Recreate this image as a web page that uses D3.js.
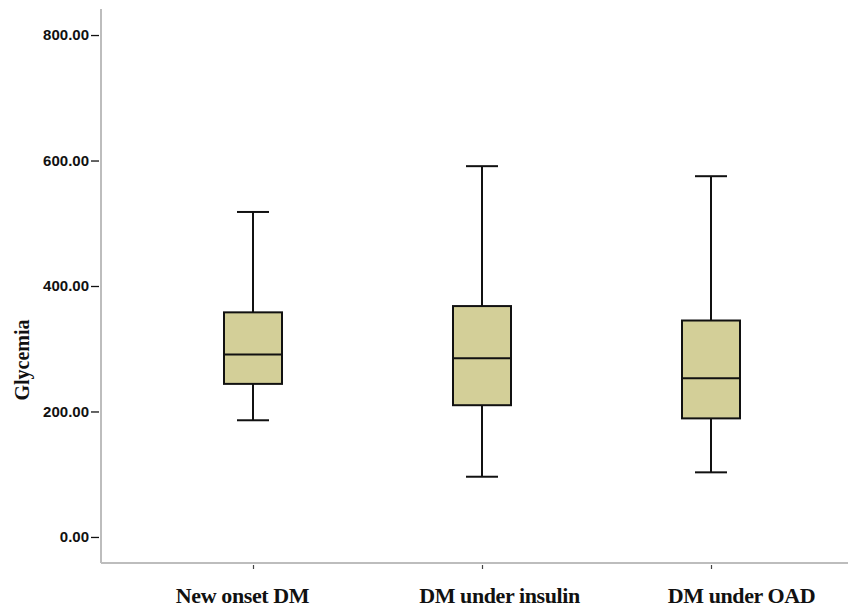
<!DOCTYPE html>
<html>
<head>
<meta charset="utf-8">
<script src="https://cdn.jsdelivr.net/npm/d3@7"></script>
<style>
  body { margin: 0; background: #fff; }
  svg { display: block; }
</style>
</head>
<body>
<div id="chart"></div>
<script>
const boxFill = "#d3cf98";

const categories = ["New onset DM", "DM under insulin", "DM under OAD"];
const whiskerLow = [186, 96, 103];
const q1 = [244, 210, 189];
const medians = [291, 285, 253];
const q3 = [358, 368, 345];
const whiskerHigh = [518, 591, 575];
const yTicks = [0, 200, 400, 600, 800];

const data = categories.map((c, i) => ({
  name: c, lo: whiskerLow[i], q1: q1[i], med: medians[i], q3: q3[i], hi: whiskerHigh[i]
}));

const svgWidth = 848;
const svgHeight = 607;
const axisX = 101;
const axisY = 563;

// labels in the original sit a little off their ticks
const labelShift = [-11, 17, 30];

const svg = d3.select("#chart")
  .append("svg")
  .attr("width", svgWidth)
  .attr("height", svgHeight);

// scales
const yScale = d3.scaleLinear()
  .domain([-41.5, 841.5])
  .range([axisY, 9]);

const xScale = d3.scalePoint()
  .domain(categories)
  .range([253, 711]);

const boxWidth = 58;
const capWidth = 32;

// y axis
const yAxis = d3.axisLeft(yScale)
  .tickValues(yTicks)
  .tickSize(8)
  .tickPadding(2)
  .tickFormat(d3.format(".2f"));

const yAxisGroup = svg.append("g")
  .attr("transform", `translate(${axisX - 2},0)`)
  .call(yAxis);

yAxisGroup.select(".domain").remove();
yAxisGroup.selectAll(".tick line")
  .attr("stroke", "#111")
  .attr("stroke-width", 1.3);
yAxisGroup.selectAll(".tick text")
  .attr("fill", "#111")
  .style("font-family", "'Liberation Sans', Arial, sans-serif")
  .style("font-size", "15px")
  .style("font-weight", "bold");

// x axis
const xAxis = d3.axisBottom(xScale)
  .tickSize(4)
  .tickSizeOuter(0);

const xAxisGroup = svg.append("g")
  .attr("transform", `translate(0,${axisY + 2})`)
  .call(xAxis);

xAxisGroup.select(".domain").remove();
xAxisGroup.selectAll(".tick line")
  .attr("stroke", "#444")
  .attr("stroke-width", 1.2);
xAxisGroup.selectAll(".tick text")
  .attr("fill", "#111")
  .attr("y", 38)
  .attr("dy", 0)
  .attr("dx", (d, i) => labelShift[i])
  .style("font-family", "'Liberation Serif', 'Times New Roman', serif")
  .style("font-size", "22px")
  .style("letter-spacing", "-0.4px")
  .style("font-weight", "bold");

// frame lines
svg.append("line")
  .attr("x1", axisX).attr("x2", axisX)
  .attr("y1", yScale.range()[1]).attr("y2", axisY)
  .attr("stroke", "#bdbdbd")
  .attr("stroke-width", 2);

svg.append("line")
  .attr("x1", axisX).attr("x2", svgWidth)
  .attr("y1", axisY).attr("y2", axisY)
  .attr("stroke", "#bdbdbd")
  .attr("stroke-width", 2);

// y title
svg.append("text")
  .attr("transform", `translate(29,360) rotate(-90)`)
  .attr("text-anchor", "middle")
  .style("font-family", "'Liberation Serif', 'Times New Roman', serif")
  .style("font-size", "20px")
  .style("font-weight", "bold")
  .attr("fill", "#111")
  .text("Glycemia");

// boxes
const boxes = svg.selectAll(".box")
  .data(data)
  .enter()
  .append("g")
  .attr("class", "box");

boxes.append("line")
  .attr("x1", d => xScale(d.name))
  .attr("x2", d => xScale(d.name))
  .attr("y1", d => yScale(d.hi))
  .attr("y2", d => yScale(d.lo))
  .attr("stroke", "#111")
  .attr("stroke-width", 2);

boxes.selectAll(".cap")
  .data(d => [d.hi, d.lo].map(v => ({ name: d.name, v })))
  .enter()
  .append("line")
  .attr("class", "cap")
  .attr("x1", d => xScale(d.name) - capWidth / 2)
  .attr("x2", d => xScale(d.name) + capWidth / 2)
  .attr("y1", d => yScale(d.v))
  .attr("y2", d => yScale(d.v))
  .attr("stroke", "#111")
  .attr("stroke-width", 2);

boxes.append("rect")
  .attr("x", d => xScale(d.name) - boxWidth / 2)
  .attr("width", boxWidth)
  .attr("y", d => yScale(d.q3))
  .attr("height", d => yScale(d.q1) - yScale(d.q3))
  .attr("fill", boxFill)
  .attr("stroke", "#111")
  .attr("stroke-width", 2);

boxes.append("line")
  .attr("x1", d => xScale(d.name) - boxWidth / 2)
  .attr("x2", d => xScale(d.name) + boxWidth / 2)
  .attr("y1", d => yScale(d.med))
  .attr("y2", d => yScale(d.med))
  .attr("stroke", "#111")
  .attr("stroke-width", 2);
</script>
</body>
</html>
